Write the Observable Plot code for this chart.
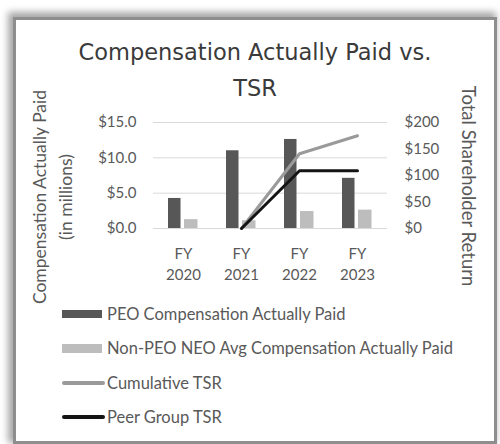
<!DOCTYPE html>
<html>
<head>
<meta charset="utf-8">
<script src="https://cdn.jsdelivr.net/npm/d3@7"></script>
<script src="https://cdn.jsdelivr.net/npm/@observablehq/plot@0.6"></script>
<style>
  html, body { margin: 0; padding: 0; background: #ffffff; }
  #root { position: relative; width: 500px; height: 444px; overflow: hidden; font-family: Lato, "Open Sans", sans-serif; }
  #frame { position: absolute; left: 13px; top: 17px; width: 484px; height: 427px; box-sizing: border-box;
           border: 3px solid #8e8e8e; box-shadow: -3px -3px 7px 2px rgba(0,0,0,0.35); background: #fff; }
  #title { position: absolute; left: 16px; width: 478px; top: 34px; text-align: center; font-family: "DejaVu Sans", sans-serif;
           font-size: 22.5px; line-height: 36px; color: #3a3a3a; }
  .ytitle { position: absolute; white-space: nowrap; text-align: center; color: #595959; line-height: 26px; }
  #chart { position: absolute; left: 0; top: 100px; }
  .leg { position: absolute; left: 62px; height: 20px; display: flex; align-items: center; font-size: 16.5px; color: #595959; }
  .sw { width: 40px; margin-right: 5px; }
</style>
</head>
<body>
<div id="root">
  <div id="frame"></div>
  <div id="title">Compensation Actually Paid vs.<br>TSR</div>
  <div class="ytitle" style="left:53px; top:197px; font-size:17.5px; transform: translate(-50%,-50%) rotate(-90deg);">Compensation Actually Paid<br>(in millions)</div>
  <div class="ytitle" style="left:469px; top:186px; font-size:18.5px; transform: translate(-50%,-50%) rotate(90deg);">Total Shareholder Return</div>
  <div id="chart"></div>
  <div id="legend"></div>
</div>
<script>
const years = ["FY 2020", "FY 2021", "FY 2022", "FY 2023"];
const peoCap = [4.25, 11.0, 12.6, 7.1];
const neoCap = [1.25, 1.1, 2.4, 2.6];
const cumulativeTSR = [null, 0, 141, 175];
const peerTSR = [null, 0, 109, 109];
const leftTicks = [0, 5, 10, 15];
const rightTicks = [0, 50, 100, 150, 200];
const seriesNames = ["PEO Compensation Actually Paid", "Non-PEO NEO Avg Compensation Actually Paid", "Cumulative TSR", "Peer Group TSR"];
const colors = { peo: "#575757", neo: "#bdbdbd", cum: "#9a9a9a", peer: "#141414" };

const toLeft = v => v * 15 / 200;
const bars = years.map((y, i) => ({ year: y, peo: peoCap[i], neo: neoCap[i] }));
const cumData = years.map((y, i) => ({ year: y, v: cumulativeTSR[i] == null ? NaN : toLeft(cumulativeTSR[i]) }));
const peerData = years.map((y, i) => ({ year: y, v: peerTSR[i] == null ? NaN : toLeft(peerTSR[i]) }));

const chart = Plot.plot({
  width: 500,
  height: 190,
  marginTop: 22,
  marginBottom: 62,
  marginLeft: 153,
  marginRight: 113,
  style: { fontFamily: "Lato, 'Open Sans', sans-serif", fontSize: "15px", color: "#595959", background: "transparent" },
  x: { domain: years, padding: 0 },
  y: { domain: [0, 15] },
  marks: [
    Plot.gridY(leftTicks, { stroke: "#d9d9d9", strokeOpacity: 1 }),
    Plot.barY(bars, { x: "year", y: "peo", fill: colors.peo, insetLeft: 14, insetRight: 31.5 }),
    Plot.barY(bars, { x: "year", y: "neo", fill: colors.neo, insetLeft: 30, insetRight: 14.5 }),
    Plot.line(cumData, { x: "year", y: "v", stroke: colors.cum, strokeWidth: 3 }),
    Plot.line(peerData, { x: "year", y: "v", stroke: colors.peer, strokeWidth: 3 }),
    Plot.axisY(leftTicks, { anchor: "left", tickSize: 0, tickPadding: 17, label: null, tickFormat: d => "$" + d.toFixed(1), fill: "#595959" }),
    Plot.axisY(rightTicks.map(toLeft), { anchor: "right", tickSize: 0, tickPadding: 17, label: null, tickFormat: d => "$" + Math.round(d * 200 / 15), fill: "#595959" }),
    Plot.axisX({ tickSize: 0, tickPadding: 16, label: null, lineHeight: 1.4, tickFormat: d => d.replace(" ", "\n"), fill: "#595959" })
  ]
});
document.getElementById("chart").appendChild(chart);

const legend = document.getElementById("legend");
const legItems = [
  { name: seriesNames[0], color: colors.peo, h: 8, y: 314 },
  { name: seriesNames[1], color: colors.neo, h: 9, y: 348 },
  { name: seriesNames[2], color: colors.cum, h: 4, y: 383 },
  { name: seriesNames[3], color: colors.peer, h: 4, y: 417 }
];
legItems.forEach(it => {
  const row = document.createElement("div");
  row.className = "leg";
  row.style.top = (it.y - 10) + "px";
  const sw = document.createElement("div");
  sw.className = "sw";
  sw.style.height = it.h + "px";
  sw.style.background = it.color;
  if (it.h === 4) { sw.style.borderRadius = "2px"; sw.style.marginRight = "2px"; sw.style.width = "43px"; }
  const t = document.createElement("span");
  t.textContent = it.name;
  row.appendChild(sw);
  row.appendChild(t);
  legend.appendChild(row);
});
</script>
</body>
</html>
